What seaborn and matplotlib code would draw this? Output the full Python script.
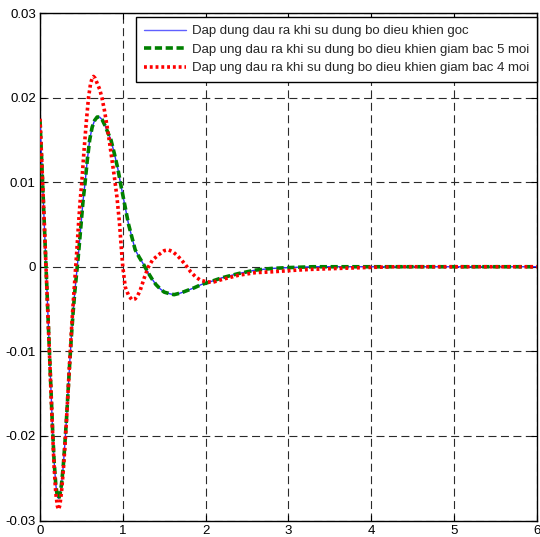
import numpy as np
import pandas as pd
import matplotlib
matplotlib.use("Agg")
import matplotlib.pyplot as plt
import seaborn as sns

# ---------------- data ----------------
t_goc = [0.00, 0.03, 0.06, 0.09, 0.12, 0.15, 0.17, 0.19, 0.21, 0.225, 0.24, 0.26, 0.28,
         0.30, 0.32, 0.34, 0.36, 0.38, 0.40, 0.42, 0.44, 0.46, 0.48, 0.50, 0.52, 0.545,
         0.57, 0.60, 0.63, 0.66, 0.69, 0.72, 0.75, 0.78, 0.81, 0.857, 0.90, 0.94, 0.97,
         1.02, 1.07, 1.11, 1.15, 1.20, 1.25, 1.30, 1.35, 1.40, 1.45, 1.50, 1.57, 1.62,
         1.70, 1.78, 1.86, 1.95, 2.05, 2.20, 2.40, 2.60, 2.80, 3.00, 3.30, 4.00, 5.00, 6.00]
y_goc = [0.0173, 0.0103, 0.0031, -0.0042, -0.0115, -0.0188, -0.0229, -0.0257, -0.0272,
         -0.0274, -0.0270, -0.0257, -0.0237, -0.0210, -0.0180, -0.0146, -0.0112, -0.0081,
         -0.0054, -0.0030, -0.0010, 0.0010, 0.0032, 0.0055, 0.0078, 0.0100, 0.0125, 0.0150,
         0.0165, 0.0173, 0.0177, 0.0177, 0.0174, 0.0168, 0.0161, 0.0150, 0.0133, 0.0116,
         0.0100, 0.0075, 0.0050, 0.0035, 0.0020, 0.0011, 0.0003, -0.0006, -0.0014, -0.0021,
         -0.0026, -0.0030, -0.0032, -0.0033, -0.0031, -0.0028, -0.0025, -0.0021, -0.0018,
         -0.0013, -0.0008, -0.0004, -0.0002, -0.0001, 0.0, 0.0, 0.0, 0.0]

t_bac5 = [0.00, 0.03, 0.06, 0.09, 0.12, 0.15, 0.17, 0.19, 0.21, 0.225, 0.24, 0.26, 0.28,
          0.30, 0.32, 0.34, 0.36, 0.38, 0.40, 0.42, 0.44, 0.46, 0.48, 0.50, 0.52, 0.545,
          0.57, 0.60, 0.63, 0.66, 0.69, 0.72, 0.75, 0.78, 0.81, 0.857, 0.90, 0.94, 0.97,
          1.02, 1.07, 1.11, 1.15, 1.20, 1.25, 1.30, 1.35, 1.40, 1.45, 1.50, 1.57, 1.62,
          1.70, 1.78, 1.86, 1.95, 2.05, 2.20, 2.40, 2.60, 2.80, 3.00, 3.30, 4.00, 5.00, 6.00]
y_bac5 = [0.0173, 0.0103, 0.0031, -0.0042, -0.0115, -0.0188, -0.0229, -0.0257, -0.0272,
          -0.0274, -0.0270, -0.0257, -0.0237, -0.0210, -0.0180, -0.0146, -0.0112, -0.0081,
          -0.0054, -0.0030, -0.0010, 0.0010, 0.0032, 0.0055, 0.0078, 0.0100, 0.0125, 0.0150,
          0.0165, 0.0173, 0.0177, 0.0177, 0.0174, 0.0168, 0.0161, 0.0150, 0.0133, 0.0116,
          0.0100, 0.0075, 0.0050, 0.0035, 0.0020, 0.0011, 0.0003, -0.0006, -0.0014, -0.0021,
          -0.0026, -0.0030, -0.0032, -0.0033, -0.0031, -0.0028, -0.0025, -0.0021, -0.0018,
          -0.0013, -0.0008, -0.0004, -0.0002, -0.0001, 0.0, 0.0, 0.0, 0.0]

t_bac4 = [0.00, 0.03, 0.06, 0.09, 0.12, 0.15, 0.17, 0.19, 0.21, 0.225, 0.24, 0.26, 0.28,
          0.30, 0.32, 0.34, 0.36, 0.38, 0.40, 0.42, 0.44, 0.465, 0.485, 0.505, 0.53, 0.56,
          0.586, 0.61, 0.63, 0.646, 0.665, 0.69, 0.72, 0.748, 0.78, 0.81, 0.84, 0.87, 0.90,
          0.93, 0.96, 0.98, 1.00, 1.03, 1.07, 1.11, 1.15, 1.18, 1.21, 1.26, 1.31, 1.36,
          1.43, 1.50, 1.55, 1.60, 1.65, 1.70, 1.76, 1.82, 1.88, 1.94, 2.02, 2.10, 2.20,
          2.40, 2.60, 2.80, 2.95, 3.10, 3.30, 3.60, 3.90, 4.30, 5.00, 6.00]
y_bac4 = [0.0175, 0.0104, 0.0031, -0.0043, -0.0117, -0.0191, -0.0236, -0.0267, -0.0283,
          -0.0287, -0.0282, -0.0266, -0.0243, -0.0214, -0.0181, -0.0146, -0.0110, -0.0075,
          -0.0044, -0.0016, 0.0012, 0.0050, 0.0078, 0.0100, 0.0135, 0.0172, 0.0200, 0.0216,
          0.0223, 0.0225, 0.0223, 0.0217, 0.0210, 0.0200, 0.0184, 0.0166, 0.0147, 0.0126,
          0.0105, 0.0082, 0.0052, 0.0025, 0.0000, -0.0024, -0.0034, -0.0039, -0.0038,
          -0.0034, -0.0028, -0.0013, 0.0000, 0.0008, 0.0014, 0.0019, 0.0020, 0.0018, 0.0014,
          0.0009, 0.0002, -0.0006, -0.0012, -0.0016, -0.0018, -0.0018, -0.0015, -0.0010,
          -0.0007, -0.0006, -0.0005, -0.0004, -0.0003, -0.0002, -0.0001, 0.0, 0.0, 0.0]

labels = ["Dap dung dau ra khi su dung bo dieu khien goc",
          "Dap ung dau ra khi su dung bo dieu khien giam bac 5 moi",
          "Dap ung dau ra khi su dung bo dieu khien giam bac 4 moi"]
x_ticks = [0, 1, 2, 3, 4, 5, 6]
x_ticklabels = ["0", "1", "2", "3", "4", "5", "6"]
y_ticks = [-0.03, -0.02, -0.01, 0.0, 0.01, 0.02, 0.03]
y_ticklabels = ["-0.03", "-0.02", "-0.01", "0", "0.01", "0.02", "0.03"]

# ---------------- plotting ----------------
sns.set_style("white")
plt.rcParams["font.family"] = ["Liberation Sans", "DejaVu Sans"]

fig = plt.figure(figsize=(5.4, 5.37), dpi=100)
ax = fig.add_axes([40 / 540, 16.5 / 537, 496.7 / 540, 507.5 / 537])

df1 = pd.DataFrame({"t": t_goc, "y": y_goc})
df2 = pd.DataFrame({"t": t_bac5, "y": y_bac5})
df3 = pd.DataFrame({"t": t_bac4, "y": y_bac4})

sns.lineplot(data=df1, x="t", y="y", ax=ax, color="#3030ff", linewidth=1.0,
             sort=False, estimator=None, label=labels[0], zorder=3)
sns.lineplot(data=df2, x="t", y="y", ax=ax, color="#008000", linewidth=2.6,
             linestyle=(0, (2.0, 1.0)), sort=False, estimator=None, label=labels[1], zorder=4)
sns.lineplot(data=df3, x="t", y="y", ax=ax, color="#ff0000", linewidth=2.6,
             linestyle=(0, (0.8, 0.8)), sort=False, estimator=None, label=labels[2], zorder=5)

ax.set_xlim(0, 6)
ax.set_ylim(-0.03, 0.03)
ax.set_xticks(x_ticks)
ax.set_xticklabels(x_ticklabels)
ax.set_yticks(y_ticks)
ax.set_yticklabels(y_ticklabels)
ax.set_xlabel("")
ax.set_ylabel("")

ax.grid(True, color="#2a2a2a", linewidth=0.8, linestyle=(0, (7.2, 4.0)))
ax.set_axisbelow(True)
for s in ax.spines.values():
    s.set_visible(True)
    s.set_color("black")
    s.set_linewidth(1.0)

ax.tick_params(axis="both", which="both", direction="in", length=4, width=0.8,
               top=True, right=True, bottom=True, left=True, labelsize=9.5,
               colors="black", pad=3)
ax.tick_params(axis="x", pad=3)

leg = ax.legend(loc="upper right", bbox_to_anchor=(1.0, 0.992), borderaxespad=0.0,
                fontsize=9.5, frameon=True, fancybox=False, framealpha=1.0,
                edgecolor="black", handlelength=3.2, handletextpad=0.4,
                labelspacing=0.48, borderpad=0.6)
leg.get_frame().set_linewidth(1.0)
leg.get_lines()[0].set_color("#6060ff")

fig.savefig("out.png", dpi=100)
